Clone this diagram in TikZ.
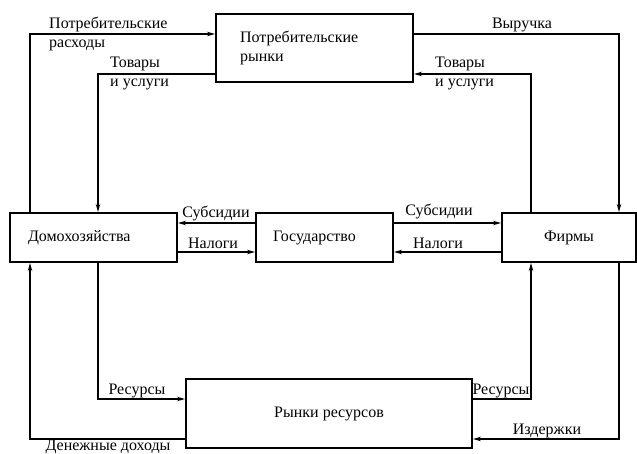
\documentclass[tikz,border=0pt]{standalone}
\usepackage{fontspec}
\setmainfont{Liberation Serif}
\usetikzlibrary{arrows.meta}

\tikzset{
  blok/.style={draw, line width=2pt, inner sep=0pt},
  potok/.style={line width=2pt, -{Stealth[length=8pt,width=4.5pt]}},
  metka/.style={inner sep=0pt, align=left},
}

\begin{document}
\begin{tikzpicture}[x=1pt, y=-1pt, font=\fontsize{16}{19}\selectfont]
\useasboundingbox (0,0) rectangle (637,454);

% --- Блоки ---
\node[blok, minimum width=197pt, minimum height=68pt, text width=149pt, align=left] (pr) at (314.5,48) {Потребительские\\рынки};
\node[blok, minimum width=167pt, minimum height=49pt, text width=131pt, align=left] (dom) at (93.5,237.5) {Домохозяйства};
\node[blok, minimum width=137pt, minimum height=49pt, text width=103pt, align=left] (gov) at (324.5,237.5) {Государство};
\node[blok, minimum width=134pt, minimum height=49pt] (firm) at (569,237.5) {Фирмы};
\node[blok, minimum width=286pt, minimum height=69pt] (rr) at (329,413.5) {Рынки ресурсов};

% --- Уровни линий ---
\coordinate (xl) at (30,0);
\coordinate (xm) at (98,0);
\coordinate (xr) at (531,0);
\coordinate (xrr) at (619,0);
\coordinate (yt) at (0,34);
\coordinate (yg) at (0,74);
\coordinate (ysub) at (0,223);
\coordinate (ytax) at (0,252);
\coordinate (yres) at (0,399);
\coordinate (yinc) at (0,439);

% --- Потоки вверху ---
\draw[potok] (dom.north -| xl) |- (pr.west |- yt);
\draw[potok] (pr.west |- yg) -| (dom.north -| xm);
\draw[potok] (pr.east |- yt) -| (firm.north -| xrr);
\draw[potok] (firm.north -| xr) |- (pr.east |- yg);

% --- Государство ---
\draw[potok] (gov.west |- ysub) -- (dom.east |- ysub);
\draw[potok] (dom.east |- ytax) -- (gov.west |- ytax);
\draw[potok] (gov.east |- ysub) -- (firm.west |- ysub);
\draw[potok] (firm.west |- ytax) -- (gov.east |- ytax);

% --- Потоки внизу ---
\draw[potok] (dom.south -| xm) |- (rr.west |- yres);
\draw[potok] (rr.west |- yinc) -| (dom.south -| xl);
\draw[potok] (rr.east |- yres) -| (firm.south -| xr);
\draw[potok] (firm.south -| xrr) |- (rr.east |- yinc);

% --- Подписи ---
\node[metka, anchor=west] (lRash) at (49,34) {Потребительские\\расходы};
\node[metka, anchor=west] (lTovL) at (110,73) {Товары\\и услуги};
\node[metka, anchor=west] (lTovR) at (435,73) {Товары\\и услуги};
\foreach \n/\x/\y/\t in {Vyr/522/25/Выручка, SubL/216/214/Субсидии, NalL/213/243/Налоги,
    SubR/439/212/Субсидии, NalR/438/243/Налоги, ResL/137/391/Ресурсы,
    Doh/108/447/Денежные доходы, ResR/501/391/Ресурсы, Izd/547/431/Издержки}{
  \node[metka] (l\n) at (\x,\y) {\t};
}

\end{tikzpicture}
\end{document}
